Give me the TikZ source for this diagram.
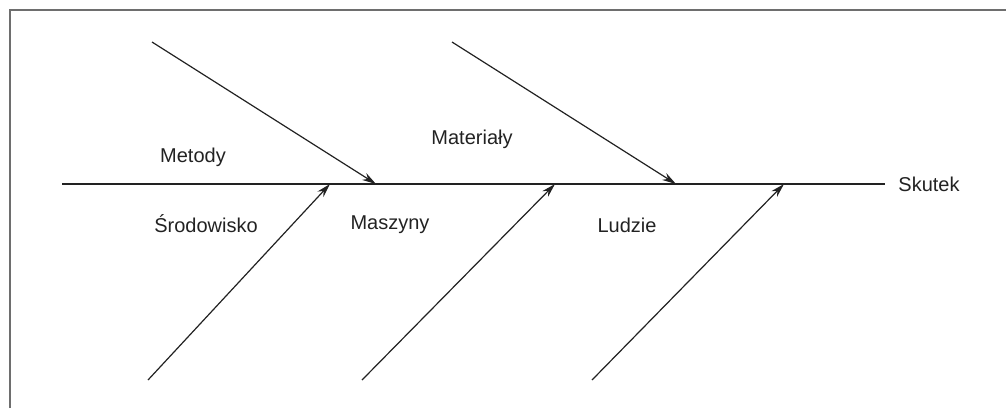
\documentclass[tikz,border=0pt]{standalone}
\usepackage{fontspec}
\setmainfont{Liberation Sans}
\usetikzlibrary{arrows.meta,positioning}
\definecolor{frame}{HTML}{6E6E6E}
\definecolor{ink}{HTML}{222222}
\tikzset{bone/.style={ink,line width=0.6pt,-{Stealth[length=7pt,width=4pt]}},
  lbl/.style={font=\fontsize{10}{12}\selectfont,text=ink,inner sep=0pt}}

\begin{document}
\begin{tikzpicture}[x=0.5pt,y=-0.5pt]
\useasboundingbox (0,0) rectangle (1006,408);
\draw[frame,line width=1pt] (9.5,408)--(9.5,9.5)--(1006,9.5);
\coordinate (tail) at (62,184);
\node[lbl,anchor=west] (skutek) at (898,184){Skutek};
\draw[ink,line width=0.6pt] (tail)--(skutek.west-|885,184);
% upper bones
\coordinate (m1) at (152,42);\coordinate (h1) at (376,184);
\coordinate (m2) at (452,42);\coordinate (h2) at (676,184);
\draw[bone] (m1)--(h1);\draw[bone] (m2)--(h2);
% lower bones
\coordinate (s1) at (148,380);\coordinate (g1) at (330,184);
\coordinate (s2) at (362,380);\coordinate (g2) at (555,184);
\coordinate (s3) at (592,380);\coordinate (g3) at (784,184);
\draw[bone] (s1)--(g1);\draw[bone] (s2)--(g2);\draw[bone] (s3)--(g3);
\node[lbl] (metody) at (193,157){Metody};
\node[lbl] (materialy) at (472,139){Materiały};
\node[lbl] (srodowisko) at (206,224){Środowisko};
\node[lbl] (maszyny) at (390,225){Maszyny};
\node[lbl] (ludzie) at (627,225){Ludzie};
\end{tikzpicture}
\end{document}
